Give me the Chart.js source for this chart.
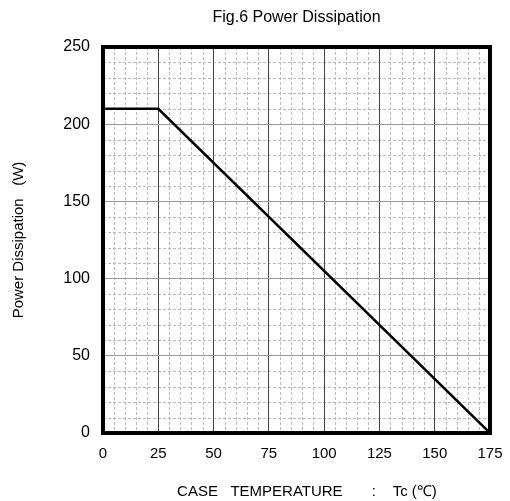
<!DOCTYPE html>
<html>
<head>
<meta charset="utf-8">
<script src="https://cdn.jsdelivr.net/npm/chart.js@4"></script>
<style>
  html, body { margin: 0; padding: 0; background: #fff; }
  #wrap { width: 510px; height: 501px; }
</style>
</head>
<body>
<div id="wrap"><canvas id="myChart" width="510" height="501"></canvas></div>
<script>
// Data
var temps = [0, 25, 175];
var power = [210, 210, 0];
var xTicks = [0, 25, 50, 75, 100, 125, 150, 175];
var yTicks = [0, 50, 100, 150, 200, 250];

var FONT = "'Liberation Sans', Arial, sans-serif";

// minor dashed grid, drawn under the major grid
var minorGrid = {
    id: 'minorGrid',
    beforeDraw: function (chart) {
        var c = chart.ctx, a = chart.chartArea;
        var xs = chart.scales.x, ys = chart.scales.y;
        c.save();
        c.strokeStyle = '#bbb';
        c.lineWidth = 1;
        c.setLineDash([3, 2]);
        for (var v = 5; v < 175; v += 5) {
            if (v % 25 === 0) continue;
            var px = Math.round(xs.getPixelForValue(v)) + 0.5;
            c.beginPath(); c.moveTo(px, a.top); c.lineTo(px, a.bottom); c.stroke();
        }
        for (var w = 10; w < 250; w += 10) {
            if (w % 50 === 0) continue;
            var py = Math.round(ys.getPixelForValue(w)) + 0.5;
            c.beginPath(); c.moveTo(a.left, py); c.lineTo(a.right, py); c.stroke();
        }
        c.restore();
    }
};

// thick black frame round the plot
var frame = {
    id: 'frame',
    afterDatasetsDraw: function (chart) {
        var c = chart.ctx, a = chart.chartArea;
        c.save();
        c.strokeStyle = '#000';
        c.lineWidth = 4;
        c.strokeRect(a.left, a.top, a.right - a.left, a.bottom - a.top);
        c.restore();
    }
};

var ctx = document.getElementById('myChart').getContext('2d');
var chart = new Chart(ctx, {
    type: 'line',
    data: {
        datasets: [{
            data: temps.map(function (t, i) { return { x: t, y: power[i] }; }),
            borderColor: '#000',
            borderWidth: 2.5,
            pointRadius: 0,
            tension: 0,
            fill: false
        }]
    },
    options: {
        responsive: false,
        animation: false,
        layout: { padding: { left: 0, right: 20, top: 0, bottom: 0 } },
        plugins: {
            legend: { display: false },
            tooltip: { enabled: false },
            title: {
                display: true,
                fullSize: false,
                text: 'Fig.6 Power Dissipation',
                color: '#000',
                font: { family: FONT, size: 16, weight: 'normal' },
                padding: { top: 8.4, bottom: 19.4 }
            }
        },
        scales: {
            x: {
                type: 'linear',
                min: 0, max: 175,
                afterBuildTicks: function (s) { s.ticks = xTicks.map(function (v) { return { value: v }; }); },
                afterFit: function (s) { s.height = 68; s.paddingLeft = 0; s.paddingRight = 0; },
                grid: { color: '#444', lineWidth: 1, drawTicks: false },
                border: { display: false },
                ticks: { color: '#000', padding: 12, font: { family: FONT, size: 15 } },
                title: {
                    display: true,
                    text: '     CASE   TEMPERATURE       :    Tc (\u2103)',
                    color: '#000',
                    font: { family: FONT, size: 15 },
                    padding: { top: 10, bottom: 0 }
                }
            },
            y: {
                min: 0, max: 250,
                afterBuildTicks: function (s) { s.ticks = yTicks.map(function (v) { return { value: v }; }); },
                afterFit: function (s) { s.width = 103; s.paddingTop = 0; s.paddingBottom = 0; },
                grid: { color: '#999', lineWidth: 1, drawTicks: false },
                border: { display: false },
                ticks: { color: '#000', padding: 13, font: { family: FONT, size: 16 } },
                title: {
                    display: true,
                    text: 'Power Dissipation   (W)',
                    color: '#000',
                    font: { family: FONT, size: 15 },
                    padding: { top: 10, bottom: 0 }
                }
            }
        }
    },
    plugins: [minorGrid, frame]
});
</script>
</body>
</html>
